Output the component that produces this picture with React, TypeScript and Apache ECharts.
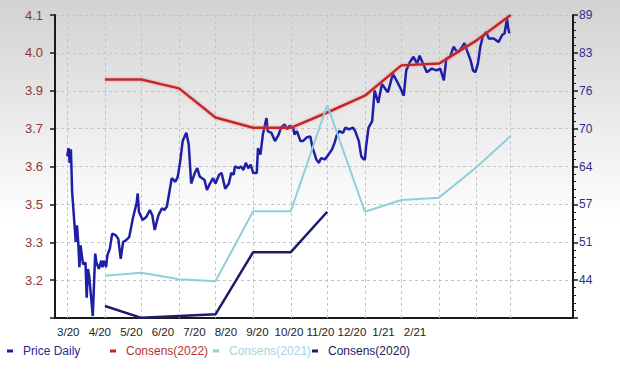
import React, { useEffect, useRef } from 'react';
import * as echarts from 'echarts';

const xLabels = ['3/20', '4/20', '5/20', '6/20', '7/20', '8/20', '9/20', '10/20', '11/20', '12/20', '1/21', '2/21'];
const leftTickLabels = ['3.2', '3.3', '3.5', '3.6', '3.7', '3.9', '4.0', '4.1'];
const rightTickLabels = ['44', '51', '57', '64', '70', '76', '83', '89'];
const gridMonths = [
  '2020-03-01', '2020-04-01', '2020-05-01', '2020-06-01', '2020-07-01', '2020-08-01', '2020-09-01',
  '2020-10-01', '2020-11-01', '2020-12-01', '2021-01-01', '2021-02-01', '2021-03-01',
];
const consensDates = [
  '2020-04-01', '2020-05-01', '2020-06-01', '2020-07-01', '2020-08-01', '2020-09-01',
  '2020-10-01', '2020-11-01', '2020-12-01', '2021-01-01', '2021-02-01', '2021-03-01',
];
const consens2022 = [3.881, 3.881, 3.851, 3.752, 3.717, 3.717, 3.769, 3.826, 3.929, 3.935, 4.014, 4.1];
const consens2021 = [3.215, 3.225, 3.203, 3.196, 3.434, 3.434, 3.794, 3.432, 3.472, 3.48, 3.584, 3.689];
const consens2020 = [3.112, 3.072, 3.078, 3.084, 3.295, 3.295, 3.432];

// [days since 2020-03-01, price]
const priceDaily: [number, number][] = [
  [0, 65.0], [1, 66.4], [2, 63.9], [3, 66.2], [4, 59.0], [6, 53.3], [7, 50.5], [8, 53.3], [9, 50.5],
  [10, 46.2], [11, 49.9], [12, 48.2], [13, 46.7], [15, 47.0], [16, 41.0], [17, 45.9], [18, 44.8],
  [21, 37.9], [23, 48.5], [24, 47.0], [26, 45.9], [28, 47.3], [29, 46.2], [30, 47.3], [32, 46.2],
  [33, 48.2], [35, 49.3], [37, 51.9], [40, 51.6], [42, 51.0], [44, 47.6], [46, 50.5], [48, 50.7],
  [51, 51.3], [54, 54.5], [57, 57.0], [58, 58.7], [59, 55.6], [62, 54.2], [65, 54.7], [68, 55.9],
  [70, 55.0], [72, 52.5], [75, 55.0], [78, 56.2], [80, 55.9], [82, 56.5], [86, 61.3], [89, 60.7],
  [91, 61.6], [93, 64.2], [95, 67.6], [98, 69.0], [100, 67.0], [102, 60.4], [105, 62.2], [107, 63.0],
  [109, 61.6], [111, 61.3], [113, 61.0], [115, 59.3], [117, 60.2], [120, 61.3], [122, 60.4],
  [125, 61.9], [127, 62.2], [130, 59.5], [133, 60.4], [135, 62.2], [137, 61.9], [138, 63.3],
  [141, 63.0], [143, 63.3], [145, 62.7], [147, 63.9], [149, 63.0], [151, 63.6], [153, 62.2],
  [156, 62.2], [157, 66.4], [159, 65.3], [161, 68.7], [164, 71.5], [165, 69.3], [168, 69.0],
  [171, 67.6], [174, 68.7], [176, 69.9], [179, 70.4], [181, 69.6], [183, 70.2], [186, 69.9],
  [187, 68.7], [189, 69.3], [192, 67.6], [194, 67.6], [197, 68.2], [200, 68.4], [202, 66.4],
  [205, 64.5], [207, 63.9], [209, 64.7], [212, 64.5], [214, 65.0], [218, 66.2], [220, 67.3],
  [222, 68.7], [224, 69.3], [227, 69.0], [229, 69.9], [232, 69.6], [235, 69.9], [237, 69.3],
  [240, 67.6], [242, 65.0], [244, 64.5], [245, 64.5], [246, 66.7], [248, 69.9], [251, 71.0],
  [253, 76.2], [256, 74.1], [259, 77.3], [262, 76.4], [264, 75.9], [268, 79.0], [271, 77.9],
  [274, 76.7], [277, 75.3], [279, 79.6], [282, 81.0], [285, 81.9], [288, 80.7], [290, 82.1],
  [293, 80.7], [296, 79.3], [300, 79.9], [304, 79.6], [307, 79.9], [310, 77.9], [312, 81.6],
  [315, 81.9], [318, 83.6], [321, 82.7], [323, 83.0], [327, 84.2], [329, 83.0], [332, 81.3],
  [334, 79.6], [336, 79.3], [338, 80.7], [340, 83.6], [342, 85.3], [345, 86.1], [347, 85.0],
  [351, 85.0], [355, 84.4], [358, 85.6], [360, 85.9], [362, 88.4], [363, 86.7], [364, 85.9],
];

const EPS_MIN = 3.2;
const EPS_MAX = 4.1;
const PRICE_MIN = 44;
const PRICE_MAX = 89;
const STEPS = 7;
const epsToAxis = (v: number) => (v - EPS_MIN) / ((EPS_MAX - EPS_MIN) / STEPS);
const priceToAxis = (v: number) => (v - PRICE_MIN) / ((PRICE_MAX - PRICE_MIN) / STEPS);

const DAY = 86400000;
const T0 = Date.UTC(2020, 2, 1);
const X_MIN = T0 - 10.1 * DAY;
const X_MAX = Date.UTC(2021, 2, 1) + 51.3 * DAY;

const FONT = '"Liberation Sans", Arial, sans-serif';

const COLORS = {
  price: '#1e1ea6',
  c2022: '#c0272b',
  c2021: '#8fcfda',
  c2020: '#1c1c6c',
};

export default function App() {
  const ref = useRef<HTMLDivElement>(null);

  useEffect(() => {
    if (!ref.current) return;
    const chart = echarts.init(ref.current, undefined, { renderer: 'svg' });

    const idxLabel = (arr: string[]) => (v: number) => {
      const i = Math.round(v);
      return Math.abs(v - i) < 1e-6 && i >= 0 && i < arr.length ? arr[i] : '';
    };

    const legendItem = (name: string, left: number, color: string) => ({
      left,
      top: 345,
      data: [name],
      icon: 'rect',
      itemWidth: 6,
      itemHeight: 3,
      padding: 0,
      textStyle: { color, fontSize: 12, fontFamily: FONT, padding: [0, 0, 0, 5] },
      selectedMode: false,
    });

    const option: any = {
      animation: false,
      backgroundColor: new echarts.graphic.LinearGradient(0, 0, 0, 1, [
        { offset: 0, color: '#d2d2d2' },
        { offset: 0.6, color: '#ffffff' },
        { offset: 1, color: '#ffffff' },
      ]),
      grid: [
        { left: 55, right: 47, top: 15, bottom: 51 },
        { left: 68.3, right: 205, top: 15, bottom: 51 },
      ],
      xAxis: [
        {
          type: 'time',
          gridIndex: 0,
          position: 'bottom',
          min: X_MIN,
          max: X_MAX,
          axisLine: { show: true, onZero: false, lineStyle: { color: '#1a1a1a', width: 2 } },
          axisTick: { show: false },
          axisLabel: { show: false },
          splitLine: { show: false },
        },
        {
          type: 'category',
          gridIndex: 1,
          position: 'bottom',
          data: xLabels,
          boundaryGap: false,
          axisLine: { show: false, onZero: false },
          axisTick: { show: false },
          splitLine: { show: false },
          axisLabel: { color: '#222', fontSize: 11.5, fontFamily: FONT, margin: 8, interval: 0 },
        },
      ],
      yAxis: [
        {
          type: 'value',
          gridIndex: 0,
          position: 'left',
          min: -1,
          max: 7,
          interval: 1,
          axisLine: { show: true, onZero: false, lineStyle: { color: '#1a1a1a', width: 2 } },
          axisTick: { show: true, length: 5, lineStyle: { color: '#1a1a1a', width: 1.5 } },
          axisLabel: {
            formatter: idxLabel(leftTickLabels),
            color: '#8e3636',
            fontSize: 13,
            fontFamily: FONT,
            margin: 12,
          },
          splitLine: { show: true, lineStyle: { color: '#c4c4c4', type: [3, 3], width: 1 } },
        },
        {
          type: 'value',
          gridIndex: 0,
          position: 'right',
          min: -1,
          max: 7,
          interval: 1,
          axisLine: { show: true, onZero: false, lineStyle: { color: '#1a1a1a', width: 2 } },
          axisTick: { show: true, length: 5, lineStyle: { color: '#1a1a1a', width: 1.5 } },
          minorTick: { show: true, splitNumber: 5, length: 3, lineStyle: { color: '#1a1a1a', width: 1 } },
          axisLabel: {
            formatter: idxLabel(rightTickLabels),
            color: '#2e2e8a',
            fontSize: 12,
            fontFamily: FONT,
            margin: 6,
          },
          splitLine: { show: false },
        },
        { type: 'value', gridIndex: 1, show: false, min: 0, max: 1 },
      ],
      legend: [
        legendItem('Price Daily', 7, '#2b2b8c'),
        legendItem('Consens(2022)', 110, '#b03232'),
        legendItem('Consens(2021)', 213, '#a6d4de'),
        legendItem('Consens(2020)', 312, '#20205e'),
      ],
      series: [
        {
          name: 'gridlines',
          type: 'line',
          xAxisIndex: 0,
          yAxisIndex: 0,
          data: [],
          silent: true,
          markLine: {
            silent: true,
            z: 1,
            symbol: 'none',
            label: { show: false },
            lineStyle: { color: '#c4c4c4', type: [3, 3], width: 1 },
            emphasis: { disabled: true },
            data: gridMonths.map((m) => ({ xAxis: Date.parse(m) })),
          },
        },
        {
          name: 'Price Daily',
          type: 'line',
          xAxisIndex: 0,
          yAxisIndex: 1,
          showSymbol: false,
          symbol: 'none',
          z: 3,
          color: COLORS.price,
          lineStyle: { color: COLORS.price, width: 2.5 },
          data: priceDaily.map(([d, p]) => [T0 + d * DAY, priceToAxis(p)]),
        },
        {
          name: 'Consens(2022)',
          type: 'line',
          xAxisIndex: 0,
          yAxisIndex: 0,
          showSymbol: false,
          symbol: 'none',
          z: 4,
          color: COLORS.c2022,
          lineStyle: { color: COLORS.c2022, width: 2.5, shadowColor: 'rgba(240,120,120,0.7)', shadowBlur: 3 },
          data: consens2022.map((v, i) => [Date.parse(consensDates[i]), epsToAxis(v)]),
        },
        {
          name: 'Consens(2021)',
          type: 'line',
          xAxisIndex: 0,
          yAxisIndex: 0,
          showSymbol: false,
          symbol: 'none',
          z: 4,
          color: COLORS.c2021,
          lineStyle: { color: COLORS.c2021, width: 2 },
          data: consens2021.map((v, i) => [Date.parse(consensDates[i]), epsToAxis(v)]),
        },
        {
          name: 'Consens(2020)',
          type: 'line',
          xAxisIndex: 0,
          yAxisIndex: 0,
          showSymbol: false,
          symbol: 'none',
          z: 4,
          color: COLORS.c2020,
          lineStyle: { color: COLORS.c2020, width: 2.5 },
          data: consens2020.map((v, i) => [Date.parse(consensDates[i]), epsToAxis(v)]),
        },
      ],
    };

    chart.setOption(option);
    return () => chart.dispose();
  }, []);

  return (
    <div
      ref={ref}
      style={{ position: 'fixed', left: 0, top: 0, width: 620, height: 369 }}
    />
  );
}
